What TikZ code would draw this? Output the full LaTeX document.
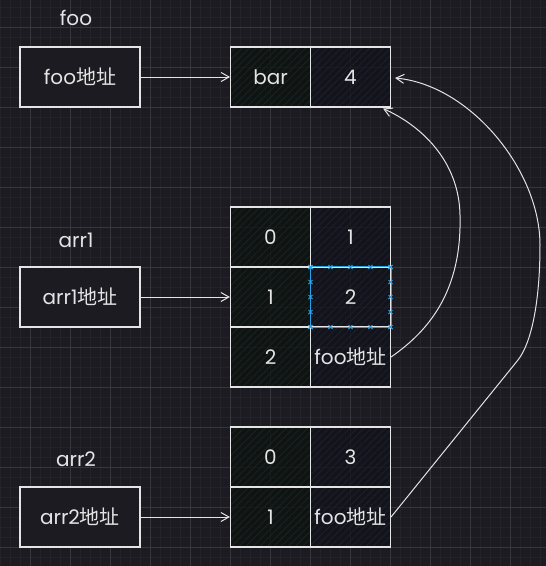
\documentclass[tikz,border=0pt]{standalone}
\usepackage{fontspec}
\setmainfont{Poppins}
\newfontfamily\cjk{Noto Sans CJK SC}
\usetikzlibrary{arrows.meta,patterns.meta,calc}

\definecolor{bgcol}{HTML}{1C1B21}
\definecolor{gridminor}{HTML}{24232A}
\definecolor{gridmajor}{HTML}{37363D}
\definecolor{inkcol}{HTML}{E4E4E4}
\definecolor{cellgreen}{HTML}{0A120C}
\definecolor{cellnavy}{HTML}{10111C}
\definecolor{hatchcol}{HTML}{1E2124}
\definecolor{selblue}{HTML}{2AA3E6}

\tikzset{
  ptrbox/.style={draw=inkcol,line width=1.1pt,fill=bgcol,minimum width=120pt,
    minimum height=60pt,text=inkcol,inner sep=0pt},
  cellbox/.style={draw=inkcol,line width=1.1pt,minimum width=80pt,minimum height=60pt,
    text=inkcol,inner sep=0pt,
    pattern={Lines[angle=45,distance=5pt,line width=0.8pt]},pattern color=hatchcol},
  lcell/.style={cellbox,preaction={fill=cellgreen,fill opacity=0.75}},
  rcell/.style={cellbox,preaction={fill=cellnavy,fill opacity=0.75}},
  varname/.style={text=inkcol},
  link/.style={draw=inkcol,line width=1pt,-{Straight Barb[length=8pt,width=9pt]}},
}

\begin{document}
\begin{tikzpicture}[x=1pt,y=-1pt,font=\fontsize{20}{24}\selectfont]
  \fill[bgcol] (0,0) rectangle (546,566);
  \useasboundingbox (0,0) rectangle (546,566);
  % canvas grid
  \foreach \gx in {0,10,...,540} \draw[gridminor,line width=0.5pt] (\gx,0) -- (\gx,566);
  \foreach \gy in {7,17,...,557} \draw[gridminor,line width=0.5pt] (0,\gy) -- (546,\gy);
  \foreach \gx in {30,70,...,510} \draw[gridmajor,line width=0.7pt] (\gx,0) -- (\gx,566);
  \foreach \gy in {27,67,...,547} \draw[gridmajor,line width=0.7pt] (0,\gy) -- (546,\gy);
  \pgfmathsetmacro\lx{270.5}
  \pgfmathsetmacro\rx{350.5}
  % foo
  \node[varname] (foolbl) at (76,18) {foo};
  \node[ptrbox] (fooptr) at (80,77) {foo{\cjk 地址}};
  \node[lcell] (bar) at (\lx,77) {bar};
  \node[rcell] (four) at (\rx,77) {4};
  % arr1
  \node[varname] (arr1lbl) at (76,240) {arr1};
  \node[ptrbox] (arr1ptr) at (80,297) {arr1{\cjk 地址}};
  \node[lcell] (a1r1l) at (\lx,237) {0};
  \node[rcell] (a1r1r) at (\rx,237) {1};
  \node[lcell] (a1r2l) at (\lx,297) {1};
  \node[rcell] (a1r2r) at (\rx,297) {2};
  \node[lcell] (a1r3l) at (\lx,357) {2};
  \node[rcell] (a1r3r) at (\rx,357) {foo{\cjk 地址}};
  % arr2
  \node[varname] (arr2lbl) at (76,459) {arr2};
  \node[ptrbox] (arr2ptr) at (80,517) {arr2{\cjk 地址}};
  \node[lcell] (a2r1l) at (\lx,457) {0};
  \node[rcell] (a2r1r) at (\rx,457) {3};
  \node[lcell] (a2r2l) at (\lx,517) {1};
  \node[rcell] (a2r2r) at (\rx,517) {foo{\cjk 地址}};
  % selection on arr1[1][1]
  \draw[selblue,line width=0.6pt] (a1r2r.north west) rectangle (a1r2r.south east);
  \foreach \i in {0,...,4} {
    \pgfmathsetmacro\mx{310.5+20*\i}
    \pgfmathsetmacro\my{267+15*\i}
    \foreach \px/\py in {\mx/267,\mx/327,310.5/\my,390.5/\my}
      \draw[selblue,line width=1pt] (\px-2,\py-2) -- (\px+2,\py+2) (\px-2,\py+2) -- (\px+2,\py-2);
  }
  % pointers
  \draw[link] (fooptr) -- (bar);
  \draw[link] (arr1ptr) -- (a1r2l);
  \draw[link] (arr2ptr) -- (a2r2l);
  \draw[link] (a1r3r.east) .. controls (430,330) and (462,290) .. (460,215)
    .. controls (459,160) and (420,125) .. ($(four.south east)+(-8,1)$);
  \draw[link] (a2r2r.east) -- (518,360) .. controls (532,342) and (540,300) .. (540,245)
    .. controls (540,170) and (470,85) .. ($(four.east)+(4,1)$);
\end{tikzpicture}
\end{document}
